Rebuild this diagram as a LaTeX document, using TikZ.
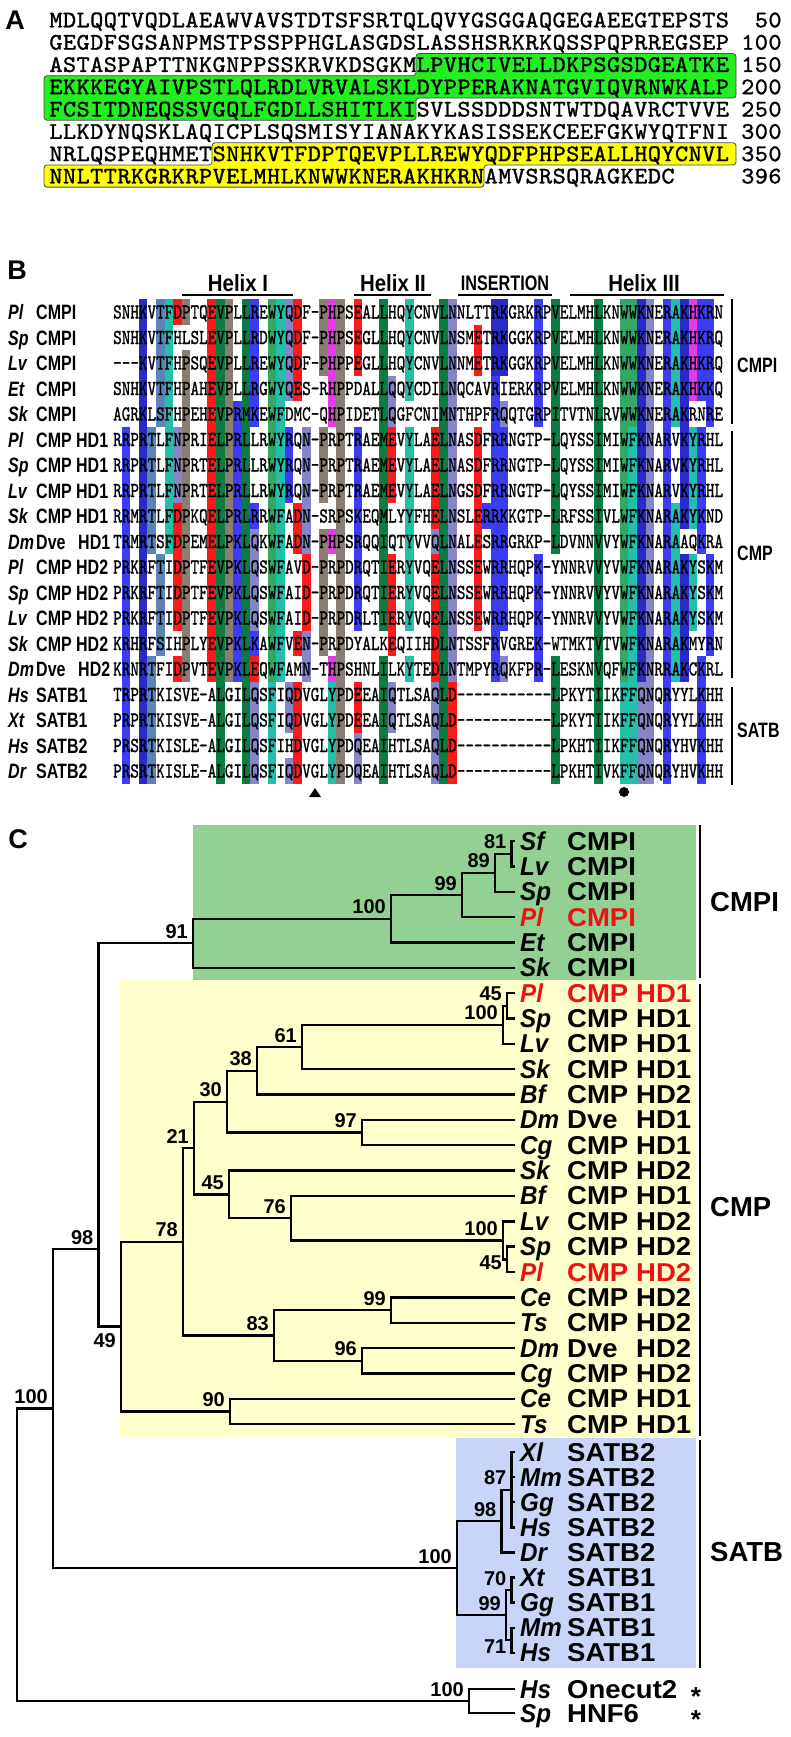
\documentclass[tikz,border=0pt]{standalone}
\usepackage{graphicx}
\usepackage{fontspec}
\newfontfamily\lsans{Liberation Sans}
\newfontfamily\seqfont{lmmono10-regular.otf}[FakeBold=1.2]
\usetikzlibrary{calc}
\definecolor{cKB}{HTML}{3C3CF5}
\definecolor{cKD}{HTML}{2A2AC8}
\definecolor{cRE}{HTML}{FF1A1A}
\definecolor{cDG}{HTML}{0B7D43}
\definecolor{cMG}{HTML}{33A865}
\definecolor{cTE}{HTML}{22C0AA}
\definecolor{cLA}{HTML}{8585C8}
\definecolor{cST}{HTML}{5B83B3}
\definecolor{cGR}{HTML}{8A7E70}
\definecolor{cMA}{HTML}{E63CE6}
\definecolor{gbox}{HTML}{93D193}
\definecolor{ybox}{HTML}{FFFFCC}
\definecolor{bbox}{HTML}{C9D5F8}
\definecolor{agreen}{HTML}{22EE22}
\definecolor{ayellow}{HTML}{FFFF00}
\definecolor{tred}{HTML}{EE1111}
\newlength\cw
\makeatletter
\def\seqchars#1{\edef\seq@tmp{#1}\expandafter\seq@loop\seq@tmp\relax}
\def\seq@loop#1{\ifx#1\relax\else\makebox[\cw]{#1}\expandafter\seq@loop\fi}
\makeatother
\newcommand\cc[4]{\fill[#1] ({113+(#2-1)*8.59},{299.25+(#3-1)*25.5}) rectangle ({113+#2*8.59},{299.25+#4*25.5});}
\newcommand\bsv[3]{\node[bsl,anchor=south east] (#1) at ($(#2)+(-5,-4.5)$) {#3};}
\tikzset{
 tlab/.style={inner sep=0pt,font=\lsans\bfseries\fontsize{27.5}{27.5}\selectfont},
 bsl/.style={inner sep=0pt,font=\lsans\bfseries\fontsize{20}{20}\selectfont},
 blab/.style={inner sep=0pt,font=\lsans\bfseries\fontsize{16}{16}\selectfont},
 plab/.style={inner sep=0pt,font=\lsans\bfseries\fontsize{27}{27}\selectfont},
 hlab/.style={inner sep=0pt,font=\lsans\bfseries\fontsize{20.4}{20.4}\selectfont},
 br/.style={line width=2.4pt},
 grp/.style={line width=2.5pt},
 abox/.style={draw=black!70,line width=0.8pt,rounded corners=3pt},
}
\begin{document}
\begin{tikzpicture}[x=1pt,y=-1pt]
\useasboundingbox (0,0) rectangle (791,1737);
\fill[white] (0,0) rectangle (791,1737);
%% ---------------- Panel A
\node[plab] (labA) at (15,20) {A};
\fill[agreen,abox] (416,53.6) -- (736,53.6) -- (736,98) -- (416,98) -- (416,120.2) -- (44,120.2) -- (44,75.75) -- (416,75.75) -- cycle;
\fill[ayellow,abox] (212,142.8) -- (736,142.8) -- (736,164.95) -- (484,164.95) -- (484,187.1) -- (44,187.1) -- (44,164.95) -- (212,164.95) -- cycle;
\foreach \k/\s/\n in {1/MDLQQTVQDLAEAWVAVSTDTSFSRTQLQVYGSGGAQGEGAEEGTEPSTS/50,
2/GEGDFSGSANPMSTPSSPPHGLASGDSLASSHSRKRKQSSPQPRREGSEP/100,
3/ASTASPAPTTNKGNPPSSKRVKDSGKMLPVHCIVELLDKPSGSDGEATKE/150,
4/EKKKEGYAIVPSTLQLRDLVRVALSKLDYPPERAKNATGVIQVRNWKALP/200,
5/FCSITDNEQSSVGQLFGDLLSHITLKISVLSSDDDSNTWTDQAVRCTVVE/250,
6/LLKDYNQSKLAQICPLSQSMISYIANAKYKASISSEKCEEFGKWYQTFNI/300,
7/NRLQSPEQHMETSNHKVTFDPTQEVPLLREWYQDFPHPSEALLHQYCNVL/350,
8/NNLTTRKGRKRPVELMHLKNWWKNERAKHKRNAMVSRSQRAGKEDC/396}{
 \node[anchor=base west,inner sep=0pt] (aseq\k) at (49,{20+(\k-1)*22.3+7.3}) {\setlength\cw{13.6pt}\scalebox{1}[0.95]{\fontsize{25}{25}\selectfont\seqfont\seqchars{\s}}};
 \node[anchor=base east,inner sep=0pt] (anum\k) at (782,{20+(\k-1)*22.3+7.3}) {\setlength\cw{13.6pt}\scalebox{1}[0.95]{\fontsize{25}{25}\selectfont\seqfont\seqchars{\n}}};
}
%% ---------------- Panel B
\node[plab] (labB) at (17,270) {B};
\node[hlab] (h1) at (238,283) {\scalebox{1}[1.15]{Helix I}};
\node[hlab] (h2) at (393,283) {\scalebox{1}[1.15]{Helix II}};
\node[inner sep=0pt,font=\lsans\bfseries\fontsize{16.2}{16.2}\selectfont] (h3) at (505,283) {\scalebox{1}[1.3]{INSERTION}};
\node[hlab] (h4) at (644,283) {\scalebox{1}[1.15]{Helix III}};
\draw[line width=2pt] (182,295) -- (293,295);
\draw[line width=2pt] (354,295) -- (431,295);
\draw[line width=2pt] (458,295) -- (552,295);
\draw[line width=2pt] (570,295) -- (724,295);
% colour cells
\cc{cKB}{2}{6}{19}
\cc{cKD}{4}{1}{19}
\cc{cST}{5}{6}{10} \cc{cST}{5}{15}{19}
\cc{cST}{6}{1}{5} \cc{cST}{6}{11}{14}
\cc{cTE}{7}{1}{10}
\cc{cRE}{8}{1}{1} \cc{cLA}{8}{6}{8} \cc{cRE}{8}{9}{13} \cc{cRE}{8}{15}{15}
\cc{cGR}{9}{1}{1} \cc{cGR}{9}{3}{15}
\cc{cRE}{12}{1}{15}
\cc{cDG}{13}{1}{19}
\cc{cGR}{14}{1}{15}
\cc{cKB}{15}{5}{15}
\cc{cDG}{16}{1}{19}
\cc{cKB}{17}{1}{5} \cc{cKB}{17}{9}{9} \cc{cLA}{17}{10}{13} \cc{cKB}{17}{14}{14} \cc{cRE}{17}{15}{15} \cc{cLA}{17}{16}{19}
\cc{cMG}{19}{1}{15} \cc{cTE}{19}{16}{19}
\cc{cTE}{20}{1}{15}
\cc{cLA}{21}{1}{4} \cc{cKB}{21}{6}{8} \cc{cLA}{21}{16}{17} \cc{cLA}{21}{19}{19}
\cc{cRE}{22}{1}{4} \cc{cRE}{22}{9}{10} \cc{cRE}{22}{14}{14} \cc{cRE}{22}{16}{19}
\cc{cLA}{23}{6}{10} \cc{cRE}{23}{11}{13} \cc{cLA}{23}{14}{15}
\cc{cGR}{25}{1}{3} \cc{cGR}{25}{6}{8} \cc{cGR}{25}{10}{14}
\cc{cMA}{26}{1}{5} \cc{cMA}{26}{10}{10} \cc{cMA}{26}{15}{15} \cc{cTE}{26}{16}{19}
\cc{cGR}{27}{1}{19}
\cc{cRE}{29}{1}{3} \cc{cKB}{29}{6}{13} \cc{cRE}{29}{16}{17} \cc{cLA}{29}{18}{19}
\cc{cDG}{32}{1}{13} \cc{cDG}{32}{15}{19}
\cc{cLA}{33}{4}{5} \cc{cRE}{33}{6}{8} \cc{cRE}{33}{11}{14} \cc{cLA}{33}{16}{17}
\cc{cTE}{35}{1}{4} \cc{cTE}{35}{6}{13} \cc{cTE}{35}{15}{15}
\cc{cRE}{38}{6}{9} \cc{cLA}{38}{10}{10} \cc{cRE}{38}{11}{15} \cc{cLA}{38}{16}{19}
\cc{cDG}{39}{1}{19}
\cc{cLA}{40}{1}{15} \cc{cRE}{40}{16}{19}
\cc{cRE}{43}{2}{3} \cc{cRE}{43}{6}{13}
\cc{cKB}{44}{9}{9}
\cc{cKD}{45}{1}{3} \cc{cKB}{45}{4}{15}
\cc{cKD}{46}{1}{3} \cc{cLA}{46}{5}{5} \cc{cKB}{46}{6}{13} \cc{cLA}{46}{15}{15}
\cc{cKB}{50}{1}{5} \cc{cKB}{50}{11}{15}
\cc{cDG}{52}{1}{10} \cc{cDG}{52}{15}{19}
\cc{cDG}{57}{1}{19}
\cc{cMG}{60}{1}{15} \cc{cTE}{60}{16}{19}
\cc{cMG}{61}{1}{5} \cc{cTE}{61}{6}{19}
\cc{cKD}{62}{1}{15} \cc{cLA}{62}{16}{19}
\cc{cLA}{63}{1}{19}
\cc{cKB}{65}{1}{19}
\cc{cTE}{66}{1}{5} \cc{cTE}{66}{9}{15}
\cc{cKD}{67}{1}{9} \cc{cKD}{67}{11}{15}
\cc{cMA}{68}{1}{4} \cc{cTE}{68}{6}{9} \cc{cTE}{68}{11}{13}
\cc{cKB}{69}{1}{4} \cc{cKB}{69}{6}{10} \cc{cKB}{69}{15}{19}
\cc{cKB}{70}{1}{5} \cc{cKB}{70}{11}{14}
% sequences and labels
\foreach \r/\sp/\ge/\s in {
1/Pl/CMPI/SNHKVTFDPTQEVPLLREWYQDF-PHPSEALLHQYCNVLNNLTTRKGRKRPVELMHLKNWWKNERAKHKRN,
2/Sp/CMPI/SNHKVTFHLSLEVPLLRDWYQDF-PHPSEGLLHQYCNVLNSMETRKGGKRPVELMHLKNWWKNERAKHKRQ,
3/Lv/CMPI/---KVTFHPSQEVPLLREWYQDF-PHPPEGLLHQYCNVLNNMETRKGGKRPVELMHLKNWWKNERAKHKRQ,
4/Et/CMPI/SNHKVTFHPAHEVPLLRGWYQES-RHPPDALLQQYCDILNQCAVRIERKRPVELMHLKNWWKNERAKHKKQ,
5/Sk/CMPI/AGRKLSFHPEHEVPRMKEWFDMC-QHPIDETLQGFCNIMNTHPFRQQTGRPITVTNLRVWWKNERAKRNRE,
6/Pl/CMP HD1/RRPRTLFNPRIELPRLLRWYRQN-PRPTRAEMEVYLAELNASDFRRNGTP-LQYSSIMIWFKNARVKYRHL,
7/Sp/CMP HD1/RRPRTLFNPRTELPRLLRWYRQN-PRPTRAEMEVYLAELNASDFRRNGTP-LQYSSIMIWFKNARVKYRHL,
8/Lv/CMP HD1/RRPRTLFNPRTELPRLLRWYRQN-PRPTRAEMEVYLAELNGSDFRRNGTP-LQYSSIMIWFKNARVKYRHL,
9/Sk/CMP HD1/RRMRTLFDPKQELPRLRRWFADN-SRPSKEQMLYYFHELNSLERRKKGTP-LRFSSIVLWFKNARAKYKND,
10/Dm/Dve/TRMRTSFDPEMELPKLQKWFADN-PHPSRQQIQTYVVQLNALESRRGRKP-LDVNNVVYWFKNARAAQKRA,
11/Pl/CMP HD2/PRKRFTIDPTFEVPKLQSWFAVD-PRPDRQTIERYVQELNSSEWRRHQPK-YNNRVVYVWFKNARAKYSKM,
12/Sp/CMP HD2/PRKRFTIDPTFEVPKLQSWFAID-PRPDRQTIERYVQELNSSEWRRHQPK-YNNRVVYVWFKNARAKYSKM,
13/Lv/CMP HD2/PRKRFTIDPTFEVPKLQSWFAID-PRPDRLTIERYVQELNSSEWRRHQPK-YNNRVVYVWFKNARAKYSKM,
14/Sk/CMP HD2/KRHRFSIHPLYEVPKLKAWFVEN-PRPDYALKEQIIHDLNTSSFRVGREK-WTMKTVTVWFKNARAKMYRN,
15/Dm/Dve/KRNRTFIDPVTEVPKLEQWFAMN-THPSHNLILKYTEDLNTMPYRQKFPR-LESKNVQFWFKNRRAKCKRL,
16/Hs/SATB1/TRPRTKISVE-ALGILQSFIQDVGLYPDEEAIQTLSAQLD-----------LPKYTIIKFFQNQRYYLKHH,
17/Xt/SATB1/PRPRTKISVE-ALGILQSFIQDVGLYPDEEAIQTLSAQLD-----------LPKYTIIKFFQNQRYYLKHH,
18/Hs/SATB2/PRSRTKISLE-ALGILQSFIHDVGLYPDQEAIHTLSAQLD-----------LPKHTIIKFFQNQRYHVKHH,
19/Dr/SATB2/PRSRTKISLE-ALGILQSFIQDVGLYPDQEAIHTLSAQLD-----------LPKHTIVKFFQNQRYHVKHH}{
 \node[anchor=base west,inner sep=0pt] (bseq\r) at (113,{312+(\r-1)*25.5+6.5}) {\setlength\cw{8.59pt}\scalebox{1}[1.3]{\fontsize{16.4}{16.4}\selectfont\seqfont\seqchars{\s}}};
 \node[blab,anchor=base west] (bsp\r) at (8,{312+(\r-1)*25.5+7.5}) {\scalebox{1}[1.3]{\itshape\sp}};
 \node[blab,anchor=base west] (bge\r) at (36,{312+(\r-1)*25.5+7.5}) {\scalebox{1}[1.3]{\ge}};
}
\node[blab,anchor=base west] (bhd10) at (78,{312+9*25.5+7.5}) {\scalebox{1}[1.3]{HD1}};
\node[blab,anchor=base west] (bhd15) at (78,{312+14*25.5+7.5}) {\scalebox{1}[1.3]{HD2}};
\draw[grp] (732,299) -- (732,424);
\draw[grp] (732,431) -- (732,678);
\draw[grp] (732,687) -- (732,785);
\node[blab,anchor=west] (gB1) at (737,365) {\scalebox{1}[1.3]{CMPI}};
\node[blab,anchor=west] (gB2) at (737,553) {\scalebox{1}[1.3]{CMP}};
\node[blab,anchor=west] (gB3) at (737,730) {\scalebox{1}[1.3]{SATB}};
\fill (309,797) -- (321,797) -- (315,788) -- cycle;
\fill (624,792) circle (5);
%% ---------------- Panel C
\node[plab] (labC) at (18,839) {C};
\fill[gbox] (193,825) rectangle (696,980);
\fill[ybox] (120,980) rectangle (696,1437);
\fill[bbox] (456,1438) rectangle (696,1668);
\draw[grp] (700,825) -- (700,978);
\draw[grp] (700,984) -- (700,1436);
\draw[grp] (700,1440) -- (700,1668);
\node[tlab,anchor=west] (gC1) at (710,902) {CMPI};
\node[tlab,anchor=west] (gC2) at (710,1207) {CMP};
\node[tlab,anchor=west] (gC3) at (710,1552) {SATB};
% leaves
\foreach \i/\y in {0/841.0,1/866.4,2/891.7,3/917.1,4/942.4,5/967.8,6/993.1,7/1018.5,8/1043.8,9/1069.2,10/1094.5,11/1119.9,12/1145.2,13/1170.6,14/1195.9,15/1221.3,16/1246.6,17/1272.0,18/1297.3,19/1322.7,20/1348.0,21/1373.4,22/1398.7,23/1424.1,24/1452.0,25/1477.1,26/1502.2,27/1527.3,28/1552.4,29/1577.5,30/1602.6,31/1627.7,32/1652.8,33/1689,34/1713}{
 \coordinate (L\i) at (515,\y);
}
\foreach \i/\y/\sp/\ge/\c in {0/841.0/Sf/CMPI/black,1/866.4/Lv/CMPI/black,2/891.7/Sp/CMPI/black,3/917.1/Pl/CMPI/tred,4/942.4/Et/CMPI/black,5/967.8/Sk/CMPI/black,
24/1452.0/Xl/SATB2/black,25/1477.1/Mm/SATB2/black,26/1502.2/Gg/SATB2/black,27/1527.3/Hs/SATB2/black,28/1552.4/Dr/SATB2/black,29/1577.5/Xt/SATB1/black,30/1602.6/Gg/SATB1/black,31/1627.7/Mm/SATB1/black,32/1652.8/Hs/SATB1/black,33/1689/Hs/Onecut2/black,34/1713/Sp/HNF6/black}{
 \node[tlab,anchor=base west,text=\c] (tsp\i) at (520,\y+9) {\scalebox{0.88}[0.94]{\itshape\sp}};
 \node[tlab,anchor=base west,text=\c] (tge\i) at (567,\y+9) {\scalebox{1}[0.94]{\ge}};
}
\foreach \i/\y/\sp/\ge/\hd/\c in {6/993.1/Pl/CMP/HD1/tred,7/1018.5/Sp/CMP/HD1/black,8/1043.8/Lv/CMP/HD1/black,9/1069.2/Sk/CMP/HD1/black,10/1094.5/Bf/CMP/HD2/black,11/1119.9/Dm/Dve/HD1/black,12/1145.2/Cg/CMP/HD1/black,13/1170.6/Sk/CMP/HD2/black,14/1195.9/Bf/CMP/HD1/black,15/1221.3/Lv/CMP/HD2/black,16/1246.6/Sp/CMP/HD2/black,17/1272.0/Pl/CMP/HD2/tred,18/1297.3/Ce/CMP/HD2/black,19/1322.7/Ts/CMP/HD2/black,20/1348.0/Dm/Dve/HD2/black,21/1373.4/Cg/CMP/HD2/black,22/1398.7/Ce/CMP/HD1/black,23/1424.1/Ts/CMP/HD1/black}{
 \node[tlab,anchor=base west,text=\c] (tsp\i) at (520,\y+9) {\scalebox{0.88}[0.94]{\itshape\sp}};
 \node[tlab,anchor=base west,text=\c] (tge\i) at (567,\y+9) {\scalebox{1}[0.94]{\ge}};
 \node[tlab,anchor=base west,text=\c] (thd\i) at (636,\y+9) {\scalebox{1}[0.94]{\hd}};
}
\node[inner sep=0pt,anchor=north,font=\lsans\bfseries\fontsize{26}{26}\selectfont] (ast1) at (696,1687) {*};
\node[inner sep=0pt,anchor=north,font=\lsans\bfseries\fontsize{26}{26}\selectfont] (ast2) at (696,1710) {*};
% internal nodes
\coordinate (n81) at (511.5,853.7);
\coordinate (n89) at (495,872.7);
\coordinate (n99) at (462,894.9);
\coordinate (n100a) at (391,918.7);
\coordinate (n91) at (193,943.2);
\coordinate (n45a) at (507,1005.8);
\coordinate (n100b) at (503,1024.8);
\coordinate (n61) at (302,1047.0);
\coordinate (n38) at (257,1070.8);
\coordinate (n97) at (362,1132.6);
\coordinate (n30) at (227,1101.7);
\coordinate (n45b) at (507,1259.3);
\coordinate (n100c) at (503,1240.3);
\coordinate (n76) at (291,1218.1);
\coordinate (n45c) at (229,1194.4);
\coordinate (n21) at (194,1148.0);
\coordinate (n99b) at (391,1310.0);
\coordinate (n96) at (362,1360.7);
\coordinate (n83) at (274,1335.4);
\coordinate (n78) at (183,1241.7);
\coordinate (n90) at (230,1411.4);
\coordinate (n49) at (121,1326.6);
\coordinate (n98) at (98.5,1249);
\coordinate (n87) at (511.5,1489.7);
\coordinate (n98s) at (501.5,1521.0);
\coordinate (n70) at (511.5,1590.0);
\coordinate (n71) at (511.5,1640.2);
\coordinate (n99s) at (506,1615.1);
\coordinate (n100s) at (457,1568.0);
\coordinate (nX) at (53,1408.5);
\coordinate (n100o) at (469,1701);
\coordinate (root) at (17,1555);
% branches (child -| parent)
\foreach \c/\p in {L0/n81,L1/n81,n81/n89,L2/n89,n89/n99,L3/n99,n99/n100a,L4/n100a,n100a/n91,L5/n91,n91/n98,
L6/n45a,L7/n45a,n45a/n100b,L8/n100b,n100b/n61,L9/n61,n61/n38,L10/n38,n38/n30,L11/n97,L12/n97,n97/n30,n30/n21,
L13/n45c,L14/n76,L15/n100c,L16/n45b,L17/n45b,n45b/n100c,n100c/n76,n76/n45c,n45c/n21,n21/n78,
L18/n99b,L19/n99b,L20/n96,L21/n96,n99b/n83,n96/n83,n83/n78,n78/n49,L22/n90,L23/n90,n90/n49,n49/n98,n98/nX,
L24/n87,L25/n87,L26/n87,L27/n87,n87/n98s,L28/n98s,n98s/n100s,L29/n70,L30/n70,L31/n71,L32/n71,n70/n99s,n71/n99s,n99s/n100s,n100s/nX,
nX/root,L33/n100o,L34/n100o,n100o/root}{
 \draw[br] (\c) -| (\p);
}
% bootstrap values
\bsv{v81}{n81}{81}
\bsv{v89}{n89}{89}
\bsv{v99}{n99}{99}
\bsv{v100a}{n100a}{100}
\bsv{v91}{n91}{91}
\bsv{v45a}{n45a}{45}
\bsv{v100b}{n100b}{100}
\bsv{v61}{n61}{61}
\bsv{v38}{n38}{38}
\bsv{v97}{n97}{97}
\bsv{v30}{n30}{30}
\bsv{v100c}{n100c}{100}
\bsv{v76}{n76}{76}
\bsv{v45c}{n45c}{45}
\bsv{v21}{n21}{21}
\bsv{v99b}{n99b}{99}
\bsv{v96}{n96}{96}
\bsv{v83}{n83}{83}
\bsv{v78}{n78}{78}
\bsv{v90}{n90}{90}
\bsv{v98}{n98}{98}
\bsv{v87}{n87}{87}
\bsv{v98s}{n98s}{98}
\bsv{v70}{n70}{70}
\bsv{v99s}{n99s}{99}
\bsv{v100s}{n100s}{100}
\bsv{vX}{nX}{100}
\bsv{v100o}{n100o}{100}
\node[bsl,anchor=north east] (v45b) at (502,1256) {45};
\node[bsl,anchor=north east] (v49) at (116,1333) {49};
\node[bsl,anchor=north east] (v71) at (506.5,1640) {71};
\end{tikzpicture}
\end{document}
